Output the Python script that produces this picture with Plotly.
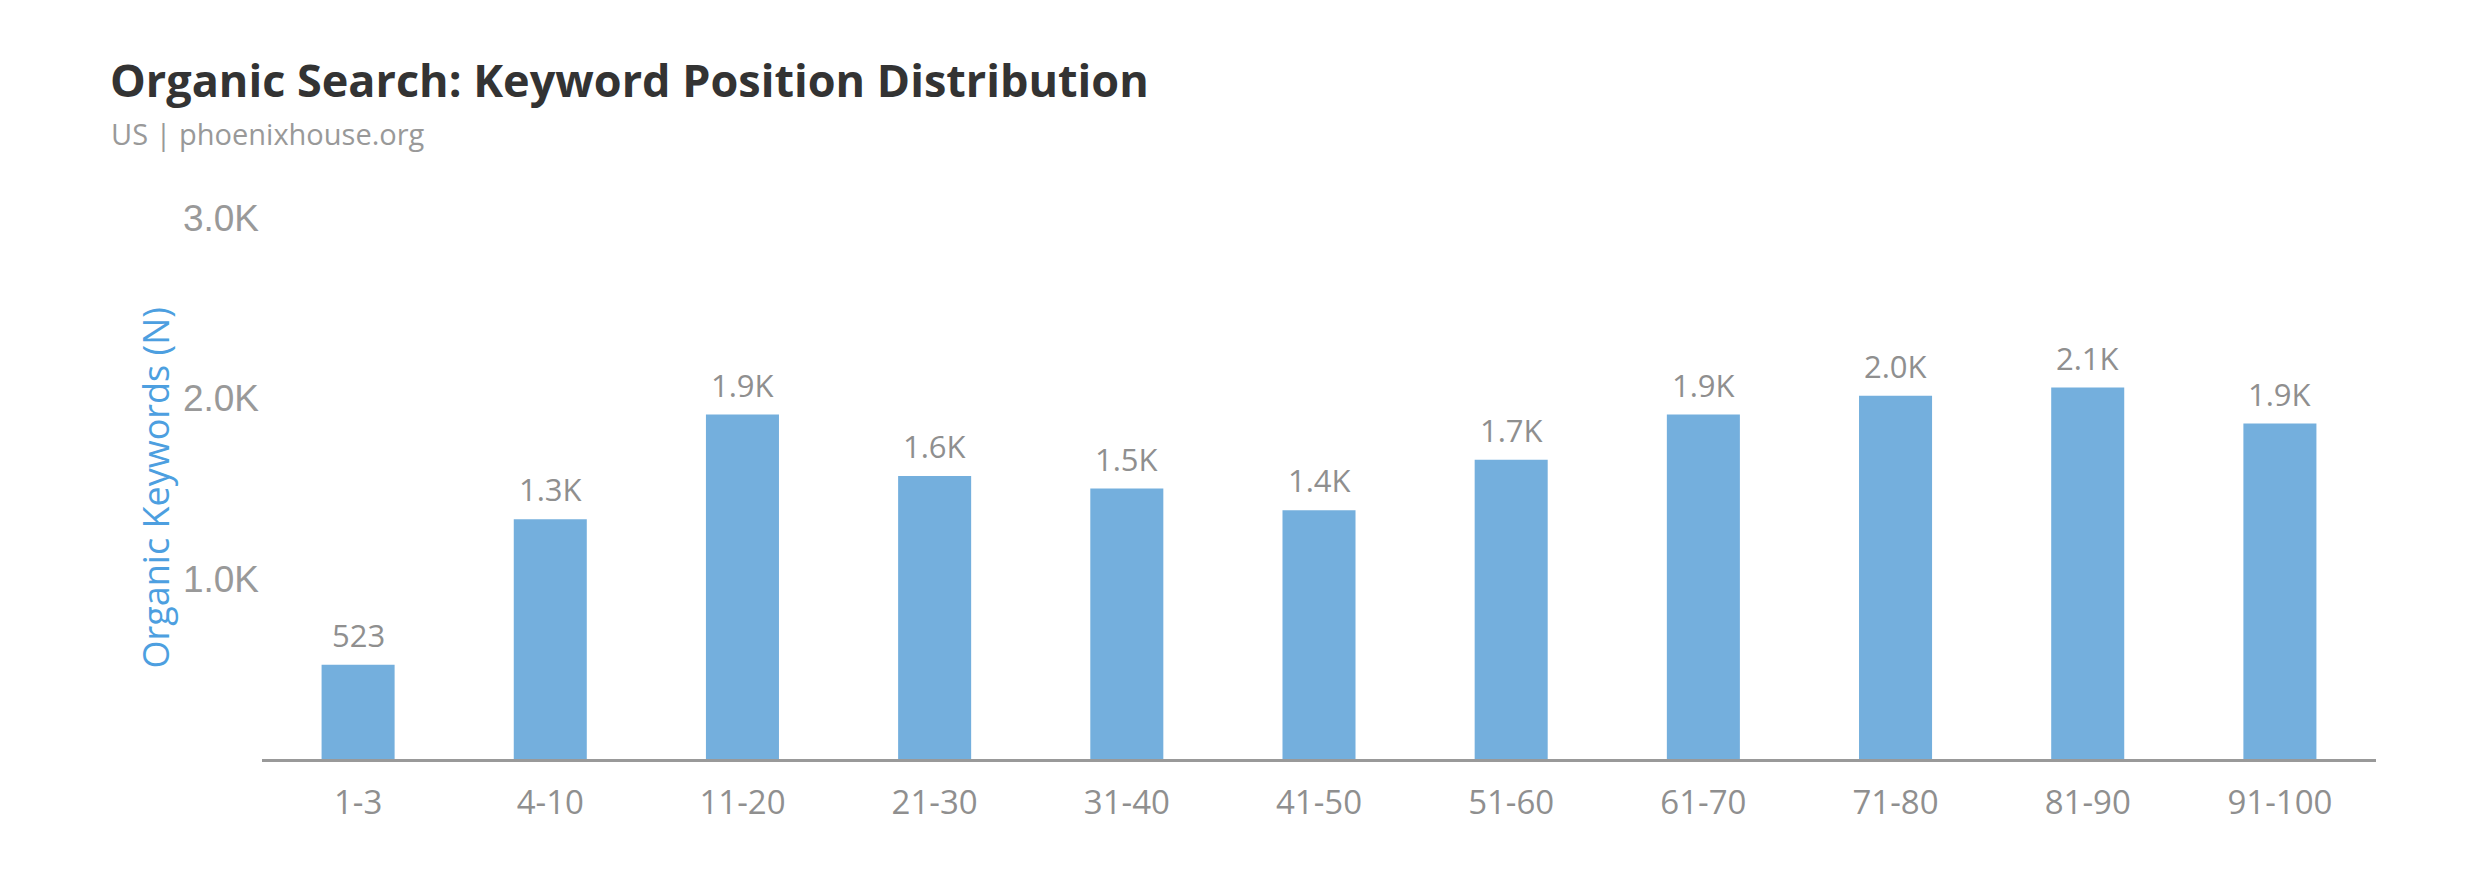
import plotly.graph_objects as go

categories = ["1-3", "4-10", "11-20", "21-30", "31-40", "41-50", "51-60", "61-70", "71-80", "81-90", "91-100"]
values = [523, 1330, 1910, 1570, 1500, 1380, 1660, 1910, 2015, 2060, 1860]
value_labels = ["523", "1.3K", "1.9K", "1.6K", "1.5K", "1.4K", "1.7K", "1.9K", "2.0K", "2.1K", "1.9K"]
y_tickvals = [1000, 2000, 3000]
y_ticktext = ["1.0K", "2.0K", "3.0K"]

# page body has an 8px default margin; work in page coordinates and offset
OFF = 8
W, H = 2479 - 2 * OFF, 894 - 2 * OFF
L = 262 - OFF
T = 217.5 - OFF
R = W - (2376 - OFF)
B = H - (759 - OFF)
pw = W - L - R
ph = H - T - B

def px(x):
    return (x - OFF - L) / pw

def py(y):
    return (H - B - (y - OFF)) / ph

fig = go.Figure()
fig.add_trace(go.Bar(
    x=categories, y=values, width=0.38,
    marker=dict(color="#74afdd", line=dict(width=0)),
    hoverinfo="skip",
))

annotations = []
for c, v, t in zip(categories, values, value_labels):
    annotations.append(dict(
        x=c, y=v, xref="x", yref="y", text=t, showarrow=False,
        yanchor="bottom", xanchor="center", yshift=7,
        font=dict(family="Open Sans", size=31, color="#8f8f8f"),
    ))

annotations.append(dict(
    x=px(108), y=py(79), xref="paper", yref="paper",
    text="<b>Organic Search: Keyword Position Distribution</b>",
    showarrow=False, xanchor="left", yanchor="middle",
    font=dict(family="Open Sans", size=45, color="#333333"),
))
annotations.append(dict(
    x=px(109), y=py(133), xref="paper", yref="paper",
    text="US | phoenixhouse.org",
    showarrow=False, xanchor="left", yanchor="middle",
    font=dict(family="Open Sans", size=29, color="#999999"),
))
annotations.append(dict(
    x=px(155), y=0.5, xref="paper", yref="paper",
    text="Organic Keywords (N)", textangle=-90,
    showarrow=False, xanchor="center", yanchor="middle",
    font=dict(family="Open Sans", size=36, color="#4d9fe0"),
))

fig.update_layout(
    width=W, height=H,
    margin=dict(l=L, r=R, t=T, b=B, pad=0),
    paper_bgcolor="white", plot_bgcolor="white",
    showlegend=False,
    annotations=annotations,
)
fig.update_xaxes(
    range=[-0.5, 10.5], showgrid=False, zeroline=False,
    showline=True, linecolor="#999999", linewidth=3,
    ticks="", ticklabelstandoff=12,
    tickfont=dict(family="Open Sans", size=33, color="#8f8f8f"),
)
fig.update_yaxes(
    range=[0, 3000], showgrid=False, zeroline=False, showline=False,
    tickvals=y_tickvals, ticktext=y_ticktext, ticks="",
    ticklabelstandoff=2,
    tickfont=dict(family="Liberation Sans, Arial", size=37, color="#999999"),
)

fig.write_html("out.html")
